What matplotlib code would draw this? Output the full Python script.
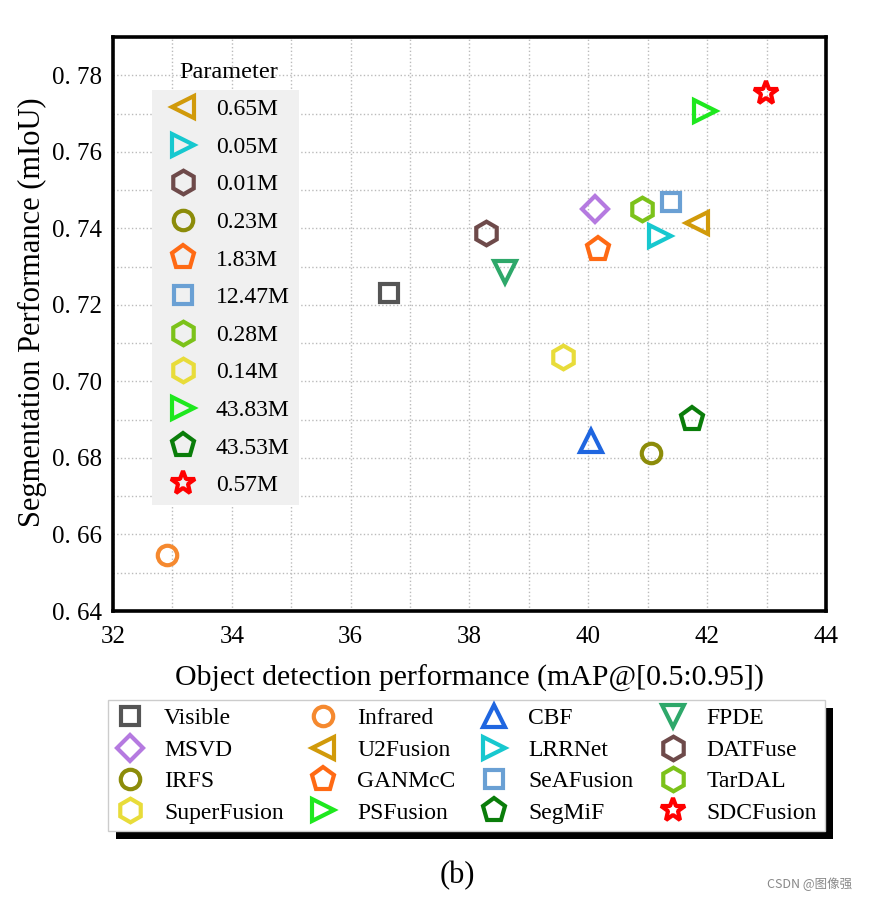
import matplotlib
matplotlib.use("Agg")
import matplotlib.pyplot as plt
from matplotlib.ticker import MultipleLocator, FixedLocator
from matplotlib.patches import Rectangle

plt.rcParams['font.family'] = ['Liberation Serif', 'DejaVu Serif']

methods = ["Visible", "Infrared", "CBF", "FPDE", "MSVD", "U2Fusion", "LRRNet", "DATFuse",
           "IRFS", "GANMcC", "SeAFusion", "TarDAL", "SuperFusion", "PSFusion", "SegMiF", "SDCFusion"]
map_vals = [36.65, 32.91, 40.05, 38.60, 40.11, 41.83, 41.21, 38.28,
            41.06, 40.16, 41.39, 40.90, 39.58, 41.97, 41.75, 42.99]
miou_vals = [0.7232, 0.6547, 0.6845, 0.7285, 0.7450, 0.7415, 0.7379, 0.7389,
             0.6813, 0.7345, 0.7468, 0.7450, 0.7065, 0.7706, 0.6902, 0.7753]
markers = ["s", "o", "^", "v", "D", "<", ">", "h", "o", "p", "s", "h", "h", ">", "p", "*"]
colors = ["#555555", "#f5892f", "#1f66e0", "#2ea86a", "#b57ae0", "#d19a0a", "#17c8cf", "#6e4a4a",
          "#8c8c0a", "#ff6a14", "#6aa0d4", "#7cc21a", "#e8dc3a", "#1ee81e", "#0a7d0a", "#ff0000"]

param_methods = ["U2Fusion", "LRRNet", "DATFuse", "IRFS", "GANMcC", "SeAFusion", "TarDAL",
                 "SuperFusion", "PSFusion", "SegMiF", "SDCFusion"]
param_labels = ["0.65M", "0.05M", "0.01M", "0.23M", "1.83M", "12.47M", "0.28M",
                "0.14M", "43.83M", "43.53M", "0.57M"]

x_ticks = [32, 34, 36, 38, 40, 42, 44]
y_ticks = [0.64, 0.66, 0.68, 0.70, 0.72, 0.74, 0.76, 0.78]
y_tick_labels = ["0. 64", "0. 66", "0. 68", "0. 70", "0. 72", "0. 74", "0. 76", "0. 78"]

marker_size = {"s": 13, "o": 14, "^": 16, "v": 16, "<": 16, ">": 16, "D": 13, "h": 17, "p": 17, "*": 18}

fig = plt.figure(figsize=(8.74, 9.01), dpi=100)
ax = fig.add_axes([113/874, 1-611/901, 713/874, 574/901])

handles = {}
for m, xv, yv, mk, c in zip(methods, map_vals, miou_vals, markers, colors):
    h, = ax.plot([xv], [yv], linestyle="none", marker=mk, markersize=marker_size[mk],
                 markerfacecolor="none", markeredgecolor=c, markeredgewidth=3.0,
                 label=m, zorder=3)
    handles[m] = h

ax.set_xlim(32, 44)
ax.set_ylim(0.64, 0.79)
ax.xaxis.set_major_locator(FixedLocator(x_ticks))
ax.yaxis.set_major_locator(FixedLocator(y_ticks))
ax.set_yticklabels(y_tick_labels)
ax.xaxis.set_minor_locator(MultipleLocator(1))
ax.yaxis.set_minor_locator(MultipleLocator(0.01))
ax.tick_params(which="both", length=0)
ax.tick_params(axis="x", labelsize=18, pad=11)
ax.tick_params(axis="y", labelsize=18, pad=8)
ax.grid(which="both", linestyle=":", color="#bbbbbb", linewidth=1.0)
ax.set_axisbelow(True)
for s in ax.spines.values():
    s.set_linewidth(2.6)
    s.set_color("black")

ax.set_xlabel("Object detection performance (mAP@[0.5:0.95])", fontsize=21.5, labelpad=12)
ax.set_ylabel("Segmentation Performance (mIoU)", fontsize=22)
ax.yaxis.set_label_coords(-0.092, 0.52)

# Inner parameter legend
ph = [handles[m] for m in param_methods]
leg1 = ax.legend(ph, param_labels, loc="upper left", bbox_to_anchor=(0.054, 0.908),
                 frameon=True, facecolor="#f0f0f0", edgecolor="none", framealpha=1,
                 fontsize=17, labelspacing=0.68, handlelength=1.9, handletextpad=0.45,
                 borderpad=0.38, borderaxespad=0, fancybox=False)
ax.add_artist(leg1)
ax.text(0.162, 0.938, "Parameter", transform=ax.transAxes, fontsize=17.5,
        ha="center", va="center")

# Bottom legend: row-wise order with 4 columns
ncol = 4
nrow = 4
order = [methods[r * ncol + c] for c in range(ncol) for r in range(nrow)]
leg2 = fig.legend([handles[m] for m in order], order, loc="upper left",
                  bbox_to_anchor=(108/874, 1-700/901), ncol=4, frameon=True,
                  facecolor="white", edgecolor="#cccccc", framealpha=1, fancybox=False,
                  fontsize=17, labelspacing=0.42, handlelength=1.2, handletextpad=0.85,
                  columnspacing=1.05, borderpad=0.33, borderaxespad=0)
leg2.set_zorder(5)

fig.canvas.draw()
bb = leg2.get_window_extent()
shadow = Rectangle((bb.x0 + 8, bb.y0 - 8), bb.width, bb.height, transform=None,
                   facecolor="black", edgecolor="none", zorder=4)
fig.patches.append(shadow)
shadow.set_figure(fig)

fig.text(457/874, 1-876/901, "(b)", fontsize=22, ha="center", va="center")
fig.text(810/874, 1-884/901, "CSDN @图像强", fontsize=9, color="#888888",
         ha="center", va="center", family=["Noto Sans CJK SC", "DejaVu Sans"])

fig.savefig("out.png", dpi=100)
